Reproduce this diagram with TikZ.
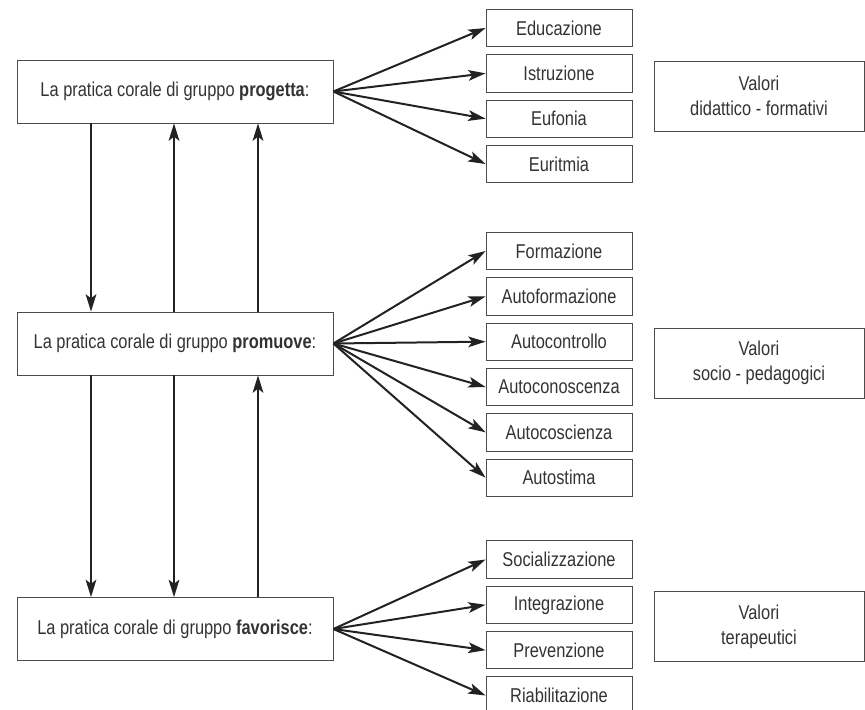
\documentclass[tikz,border=0pt]{standalone}
\usepackage{fontspec}
\setmainfont{Liberation Sans}[FakeStretch=0.82]
\usepackage{xcolor}
\usepackage{tikz}
\usetikzlibrary{arrows.meta,positioning}

\definecolor{inkgray}{HTML}{333333}
\definecolor{linegray}{HTML}{222222}

\begin{document}
\begin{tikzpicture}[
        x=0.75pt, y=-0.75pt,
        font=\fontsize{15}{18.75}\selectfont, text=inkgray,
        mainbox/.style={draw=black!70, line width=0.6pt, align=center, minimum width=237pt, minimum height=47.25pt, inner sep=0pt},
        item/.style={draw=black!70, line width=0.6pt, align=center, minimum width=109.5pt, minimum height=28pt, inner sep=0pt},
        valbox/.style={draw=black!70, line width=0.6pt, align=center, minimum width=157.5pt, minimum height=52.5pt, inner sep=0pt},
        arr/.style={-{Stealth[length=13pt, width=8pt, inset=3pt]}, line width=1.5pt, draw=linegray}
    ]
        \useasboundingbox (0,0) rectangle (865,710);

        % the three main statements
        \node[mainbox] (prog) at (175,91.5) {La pratica corale di gruppo \textbf{progetta}:};
        \node[mainbox] (prom) at (175,343.5) {La pratica corale di gruppo \textbf{promuove}:};
        \node[mainbox] (fav) at (175,629) {La pratica corale di gruppo \textbf{favorisce}:};

        % values
        \node[valbox] (vdid) at (759,96) {Valori\\didattico - formativi};
        \node[valbox] (vsoc) at (759,363) {Valori\\socio - pedagogici};
        \node[valbox] (vter) at (759,626.5) {Valori\\terapeutici};

        % first group
        \node[item] (edu) at (559,28) {Educazione};
        \node[item, below=5.4pt of edu] (istr) {Istruzione};
        \node[item, below=5.4pt of istr] (eufo) {Eufonia};
        \node[item, below=5.4pt of eufo] (euri) {Euritmia};

        % second group
        \node[item] (form) at (559,251) {Formazione};
        \node[item, below=5.4pt of form] (aform) {Autoformazione};
        \node[item, below=5.4pt of aform] (actrl) {Autocontrollo};
        \node[item, below=5.4pt of actrl] (acon) {Autoconoscenza};
        \node[item, below=5.4pt of acon] (acos) {Autocoscienza};
        \node[item, below=5.4pt of acos] (astim) {Autostima};

        % third group
        \node[item] (soc) at (559,559.5) {Socializzazione};
        \node[item, below=5.4pt of soc] (integ) {Integrazione};
        \node[item, below=5.4pt of integ] (prev) {Prevenzione};
        \node[item, below=5.4pt of prev] (riab) {Riabilitazione};

        \draw[arr] (prog.east) -- (edu.west);
        \draw[arr] (prog.east) -- (istr.west);
        \draw[arr] (prog.east) -- (eufo.west);
        \draw[arr] (prog.east) -- (euri.west);

        \draw[arr] (prom.east) -- (form.west);
        \draw[arr] (prom.east) -- (aform.west);
        \draw[arr] (prom.east) -- (actrl.west);
        \draw[arr] (prom.east) -- (acon.west);
        \draw[arr] (prom.east) -- (acos.west);
        \draw[arr] (prom.east) -- (astim.west);

        \draw[arr] (fav.east) -- (soc.west);
        \draw[arr] (fav.east) -- (integ.west);
        \draw[arr] (fav.east) -- (prev.west);
        \draw[arr] (fav.east) -- (riab.west);

        % links between the statements
        \draw[arr] (91,0 |- prog.south) -- (91,0 |- prom.north);
        \draw[arr] (174,0 |- prom.north) -- (174,0 |- prog.south);
        \draw[arr] (258,0 |- prom.north) -- (258,0 |- prog.south);
        \draw[arr] (91,0 |- prom.south) -- (91,0 |- fav.north);
        \draw[arr] (174,0 |- prom.south) -- (174,0 |- fav.north);
        \draw[arr] (258,0 |- fav.north) -- (258,0 |- prom.south);
    \end{tikzpicture}
\end{document}
